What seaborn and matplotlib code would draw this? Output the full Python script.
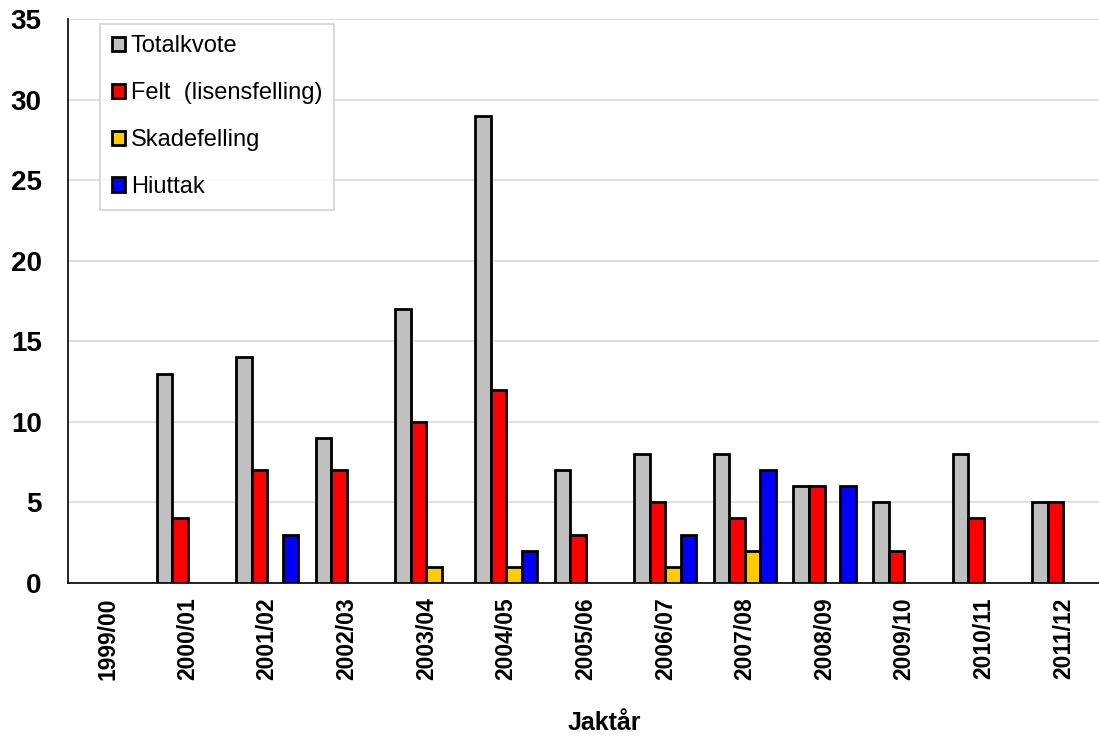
import numpy as np
import pandas as pd
import matplotlib
matplotlib.use("Agg")
import matplotlib.pyplot as plt
import seaborn as sns

seasons = ["1999/00", "2000/01", "2001/02", "2002/03", "2003/04", "2004/05", "2005/06",
           "2006/07", "2007/08", "2008/09", "2009/10", "2010/11", "2011/12"]
series = ["Totalkvote", "Felt  (lisensfelling)", "Skadefelling", "Hiuttak"]
totalkvote = [0, 13, 14, 9, 17, 29, 7, 8, 8, 6, 5, 8, 5]
felt = [0, 4, 7, 7, 10, 12, 3, 5, 4, 6, 2, 4, 5]
skadefelling = [0, 0, 0, 0, 1, 1, 0, 1, 2, 0, 0, 0, 0]
hiuttak = [0, 0, 3, 0, 0, 2, 0, 3, 7, 6, 0, 0, 0]
colors = ["#c0c0c0", "#ff0000", "#ffcc00", "#0000ff"]

# long format, zero values dropped so no empty bars are drawn
rows = []
for name, vals in zip(series, [totalkvote, felt, skadefelling, hiuttak]):
    for s, v in zip(seasons, vals):
        rows.append({"Jaktår": s, "Serie": name, "Antall": v if v > 0 else np.nan})
df = pd.DataFrame(rows)

sns.set_style("white")
plt.rcParams["font.family"] = ["Liberation Sans", "DejaVu Sans"]
plt.rcParams["text.color"] = "black"
plt.rcParams["xtick.color"] = "black"
plt.rcParams["ytick.color"] = "black"
plt.rcParams["axes.labelcolor"] = "black"

fig = plt.figure(figsize=(10.99, 7.36), dpi=100)
ax = fig.add_axes([0.062, 0.208, 0.9418, 0.766])

sns.barplot(data=df, x="Jaktår", y="Antall", hue="Serie", order=seasons,
            hue_order=series, palette=colors, saturation=1, width=0.78, gap=0,
            edgecolor="black", linewidth=2, ax=ax, zorder=3)

ax.set_ylim(0, 35)
ax.set_xlim(-0.5, len(seasons) - 0.5)
ax.set_yticks(range(0, 36, 5))
ax.yaxis.grid(True, color="#d9d9d9", linewidth=1.2, zorder=0)
ax.set_axisbelow(True)

for side in ["top", "right"]:
    ax.spines[side].set_visible(False)
for side in ["left", "bottom"]:
    ax.spines[side].set_color("black")
    ax.spines[side].set_linewidth(1.2)

ax.set_xticks(range(len(seasons)))
ax.set_xticklabels(seasons, rotation=90, fontsize=16.5, fontweight="bold")
ax.set_xticks(np.arange(-0.5, len(seasons)), minor=True)
ax.tick_params(axis="x", which="major", length=0, pad=10.5)
ax.tick_params(axis="x", which="minor", length=5, width=1.2, color="#444444")
ax.tick_params(axis="y", length=4.5, width=1.2, color="#444444", labelsize=20, pad=14.5)
for lbl in ax.get_yticklabels():
    lbl.set_fontweight("bold")

ax.set_ylabel("")
ax.set_xlabel("")
fig.text(604 / 1099, 1 - 730 / 736, "Jaktår", fontsize=18, fontweight="bold",
         ha="center", va="baseline")

handles, labels = ax.get_legend_handles_labels()
leg = ax.legend(handles, labels, loc="upper left", bbox_to_anchor=(0.031, 0.992),
                borderaxespad=0, fontsize=17, frameon=True, fancybox=False,
                handlelength=0.55, handleheight=0.55, handletextpad=0.25,
                labelspacing=1.05, borderpad=0.5)
leg.get_frame().set_edgecolor("#c8c8c8")
leg.get_frame().set_linewidth(1.2)

fig.savefig("out.png", dpi=100)
